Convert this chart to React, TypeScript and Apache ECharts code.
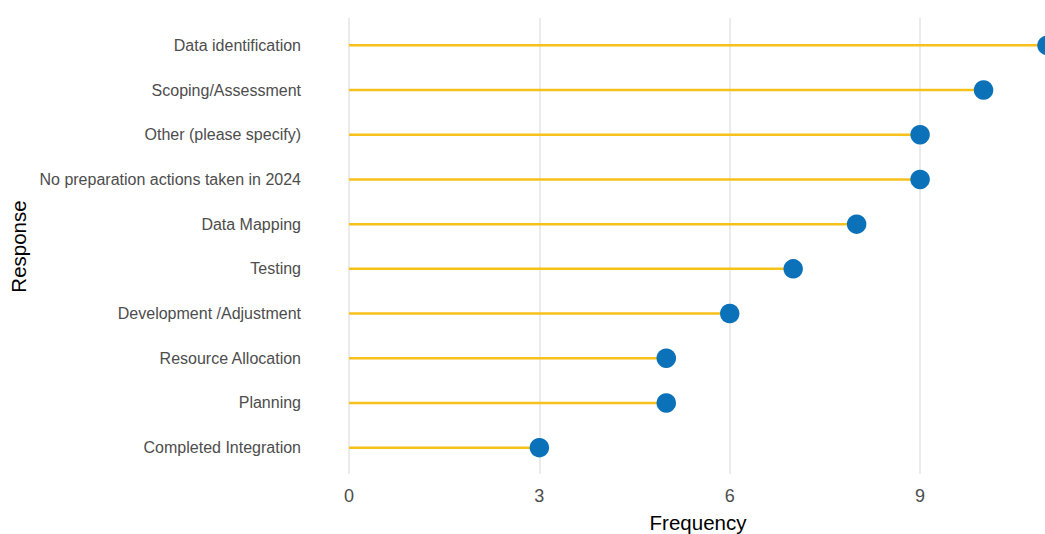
import React, { useEffect, useRef } from "react";
import * as echarts from "echarts";

const categories = [
  "Data identification",
  "Scoping/Assessment",
  "Other (please specify)",
  "No preparation actions taken in 2024",
  "Data Mapping",
  "Testing",
  "Development /Adjustment",
  "Resource Allocation",
  "Planning",
  "Completed Integration",
];
const frequencies = [11, 10, 9, 9, 8, 7, 6, 5, 5, 3];

const FONT = "Arial, 'Liberation Sans', Helvetica, sans-serif";

export default function App() {
  const ref = useRef<HTMLDivElement>(null);
  useEffect(() => {
    if (!ref.current) return;
    const chart = echarts.init(ref.current, null, { renderer: "svg" });
    chart.setOption({
      animation: false,
      backgroundColor: "#ffffff",
      grid: [
        { left: 349, width: 698, top: 23, height: 447, containLabel: false, outerBoundsMode: "none" },
        { left: 349, width: 698, top: 18, height: 456, containLabel: false, outerBoundsMode: "none" },
      ],
      xAxis: [
        {
          type: "value",
          gridIndex: 0,
          min: 0,
          max: 11,
          interval: 3,
          name: "Frequency",
          nameLocation: "middle",
          nameGap: 42,
          nameTextStyle: { color: "#000", fontSize: 20.5, fontFamily: FONT },
          axisLine: { show: false },
          axisTick: { show: false },
          axisLabel: {
            color: "#4d4d4d",
            fontSize: 18,
            fontFamily: FONT,
            margin: 17,
            showMaxLabel: false,
          },
          splitLine: { show: false },
        },
        {
          type: "value",
          gridIndex: 1,
          min: 0,
          max: 11,
          interval: 3,
          axisLine: { show: false },
          axisTick: { show: false },
          axisLabel: { show: false },
          splitLine: { show: true, lineStyle: { color: "#ebebeb", width: 2 } },
        },
      ],
      yAxis: [
        {
          type: "category",
          gridIndex: 0,
          data: categories,
          inverse: true,
          name: "Response",
          nameLocation: "middle",
          nameGap: 317,
          nameRotate: 90,
          nameTextStyle: { color: "#000", fontSize: 20.5, fontFamily: FONT },
          axisLine: { show: false },
          axisTick: { show: false },
          axisLabel: { color: "#4d4d4d", fontSize: 16, fontFamily: FONT, margin: 48 },
          splitLine: { show: false },
        },
        {
          type: "value",
          gridIndex: 1,
          show: false,
          splitLine: { show: false },
        },
      ],
      series: [
        {
          type: "bar",
          xAxisIndex: 0,
          yAxisIndex: 0,
          data: frequencies,
          barWidth: 2.5,
          itemStyle: { color: "#F7C11B" },
          silent: true,
        },
        {
          type: "scatter",
          xAxisIndex: 0,
          yAxisIndex: 0,
          data: frequencies,
          symbol: "circle",
          symbolSize: 19.5,
          itemStyle: { color: "#0B72B9", opacity: 1 },
        },
      ],
    });
    return () => chart.dispose();
  }, []);
  return <div ref={ref} style={{ width: 1045, height: 534, position: "absolute", left: 0, top: 0 }} />;
}
